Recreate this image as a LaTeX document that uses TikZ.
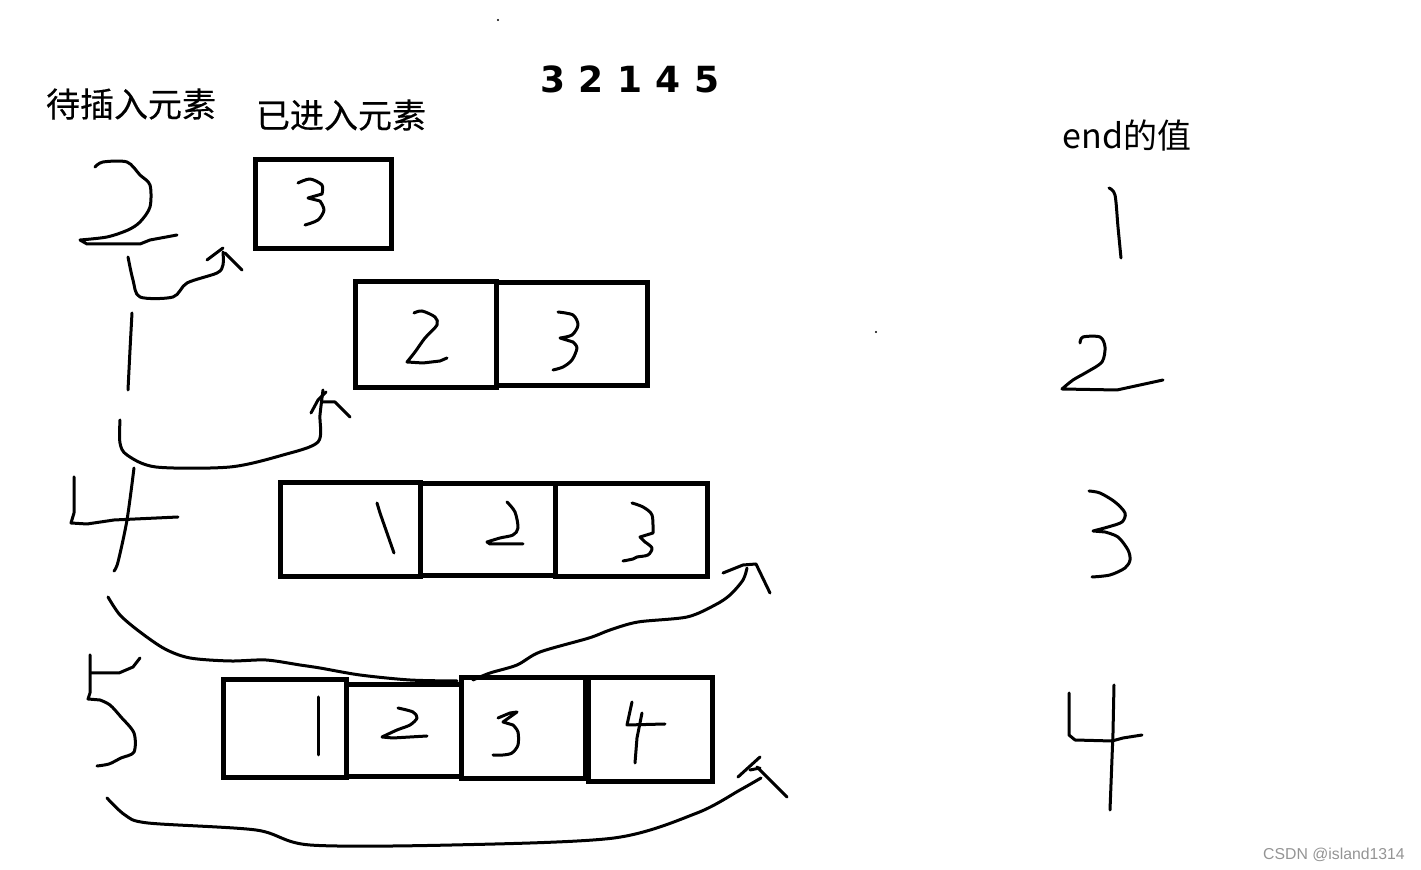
\documentclass[tikz,border=0pt]{standalone}
\usepackage{fontspec}
\newfontfamily\cjk{Noto Sans CJK SC}[FakeBold=0.3]
\newfontfamily\cjkr{Noto Sans CJK SC}
\newfontfamily\numfont{DejaVu Sans}
\newfontfamily\wmfont{Liberation Sans}
\begin{document}
\begin{tikzpicture}[x=0.5pt,y=-0.5pt,
  hand/.style={line width=1.5pt, line cap=round, line join=round},
  cell/.style={draw, line width=2.5pt, inner sep=0pt, outer sep=0pt},
  title/.style={font=\cjk\fontsize{17pt}{20pt}\selectfont, inner sep=0pt},
  titler/.style={font=\cjkr\fontsize{17pt}{20pt}\selectfont, inner sep=0pt},
  seq/.style={font=\numfont\bfseries\fontsize{18pt}{22pt}\selectfont, inner sep=0pt},
  wmark/.style={font=\wmfont\fontsize{7.9pt}{9pt}\selectfont, text=black!42, inner sep=0pt}]
\useasboundingbox (0,0) rectangle (1421,870);

% ---------- texts ----------
\node[title] (t1) at (131,104) {待插入元素};
\node[title] (t2) at (341,115) {已进入元素};
\node[titler] (t3) at (1127,136) {end的值};
\node[seq] (s) at (630,79) {\makebox[19.25pt]{3}\makebox[19.25pt]{2}\makebox[19.25pt]{1}\makebox[19.25pt]{4}\makebox[19.25pt]{5}};
\node[wmark] (wm) at (1334,855) {CSDN @island1314};

% ---------- boxes ----------
\node[cell, minimum width=68pt, minimum height=44.5pt] (b11) at (323,204.5) {};
\node[cell, minimum width=70.5pt, minimum height=53pt] (b21) at (425.5,335) {};
\node[cell, minimum width=75.5pt, minimum height=51.5pt] (b22) at (571.5,334.5) {};
\node[cell, minimum width=70pt, minimum height=47pt] (b31) at (350,530) {};
\node[cell, minimum width=67.5pt, minimum height=46pt] (b32) at (487.5,530) {};
\node[cell, minimum width=76pt, minimum height=46.5pt] (b33) at (631,530.5) {};
\node[cell, minimum width=61.5pt, minimum height=49pt] (b41) at (284.5,729) {};
\node[cell, minimum width=57.5pt, minimum height=46pt] (b42) at (403.5,731) {};
\node[cell, minimum width=62pt, minimum height=50.5pt] (b43) at (523,728.5) {};
\node[cell, minimum width=62pt, minimum height=52pt] (b44) at (650,730) {};

% ---------- handwritten digits in boxes ----------
% row 1: 3
\draw[hand] plot[smooth, tension=0.5] coordinates {(298,183) (310,179) (322,185) (322,194)} -- (308,198) -- (320,201) plot[smooth, tension=0.5] coordinates {(320,201) (324,210) (318,220) (305,225)};
% row 2
\draw[hand] plot[smooth, tension=0.5] coordinates {(414,313) (422,311) (435,317) (437,325) (425,338) (415,352) (407,362)} -- (423,363) -- (440,361) -- (447,358);
\draw[hand] plot[smooth, tension=0.5] coordinates {(558,312) (573,315) (578,325) (572,335) (560,338)} -- plot[smooth, tension=0.5] coordinates {(573,342) (577,348) (572,360) (563,367) (553,370)};
% row 3
\draw[hand] (377,503) -- (380,513) -- (394,553);
\draw[hand] plot[smooth, tension=0.5] coordinates {(507,502) (515,512) (518,528) (513,535) (500,538) (487,542)} -- (490,544) -- (523,544);
\draw[hand] plot[smooth, tension=0.5] coordinates {(632,503) (643,507) (652,515) (653,533)} -- (640,537) -- plot[smooth, tension=0.5] coordinates {(645,542) (652,548) (648,555) (637,557) (633,559) (623,561)};
% row 4
\draw[hand] (318,697) -- (318,755);
\draw[hand] plot[smooth, tension=0.5] coordinates {(398,708) (413,712) (417,718) (410,725) (397,730) (382,737)} -- (393,738) -- (427,736);
\draw[hand] (498,718) -- (510,713) -- (517,712) -- (503,722) -- plot[smooth, tension=0.5] coordinates {(513,725) (518,732) (518,745) (512,753) (503,755) (493,755)};
\draw[hand] (632,702) -- (627,725) -- (665,724);
\draw[hand] (642,713) -- (637,738) -- (635,763);

% ---------- left column digits ----------
\draw[hand] plot[smooth, tension=0.5] coordinates {(95,167) (103,162) (127,162) (140,175) (150,185) (150,207) (140,222) (128,230) (107,237) (80,240)} -- (87,244) -- (140,244) -- (150,240) -- (177,235);
\draw[hand] plot[smooth, tension=0.5] coordinates {(132,313) (130,350) (128,390)};
\draw[hand] (74,477) -- (74,513) -- (71,523) -- (87,524) -- (114,520) -- (178,517);
\draw[hand] plot[smooth, tension=0.5] coordinates {(134,468) (127,520) (118,562) (114,571)};
\draw[hand] (90,655) -- (90,693) -- (88,699) -- plot[smooth, tension=0.5] coordinates {(100,700) (110,705) (121,717) (134,733) (134,752) (121,758) (109,764) (97,766)};
\draw[hand] (91,673) -- (119,673) -- (133,667) -- (140,658);

% ---------- right column digits ----------
\draw[hand] plot[smooth, tension=0.5] coordinates {(1109,188) (1115,195) (1118,227) (1121,258)};
\draw[hand] plot[smooth, tension=0.5] coordinates {(1080,343) (1083,337) (1100,337) (1105,347) (1102,362) (1087,372) (1073,380) (1062,389)} -- (1117,390) -- (1140,385) -- (1163,380);
\draw[hand] plot[smooth, tension=0.5] coordinates {(1089,491) (1100,493) (1115,502) (1125,513) (1122,522) (1108,527) (1093,531)} -- plot[smooth, tension=0.5] coordinates {(1105,532) (1118,537) (1128,550) (1130,560) (1125,568) (1110,575) (1092,577)};
\draw[hand] (1069,693) -- (1069,735) -- (1075,740) -- (1112,741) -- (1123,738) -- (1142,735);
\draw[hand] (1114,685) -- (1113,733) -- (1110,810);

% ---------- hand-drawn arrows ----------
\draw[hand] plot[smooth, tension=0.5] coordinates {(128,257) (133,280) (140,297) (173,297) (187,283) (217,273) (223,265) (223,252)};
\draw[hand] (207,260) -- (223,248);
\draw[hand] (225,253) -- (242,270);

\draw[hand] plot[smooth, tension=0.5] coordinates {(120,420) (120,443) (127,455) (156,467) (230,467) (283,455) (318,442) (320,415) (323,390)};
\draw[hand] (311,413) -- (318,400) -- (326,392);
\draw[hand] (323,402) -- (335,402) -- (350,417);

\draw[hand] plot[smooth, tension=0.5] coordinates {(108,597) (120,615) (140,632) (165,649) (190,658) (230,661) (266,660) (300,665) (320,668) (360,675) (410,680) (457,681)};
\draw[hand] plot[smooth, tension=0.5] coordinates {(473,680) (490,673) (517,665) (540,652) (589,638) (610,630) (638,622) (687,617) (715,605) (730,595) (743,580) (747,568)};
\draw[hand] (723,573) -- (743,565) -- (756,564) -- (770,593);

\draw[hand] plot[smooth, tension=0.5] coordinates {(107,798) (125,815) (148,823) (256,830) (310,845) (452,845) (614,838) (697,813) (740,790) (761,778)};
\draw[hand] (738,777) -- (760,757);
\draw[hand] (750,770) -- (760,768);
\draw[hand] (757,767) -- (787,797);

% specks
\fill (498,20) circle (1.2);
\fill (876,332) circle (1.2);
\end{tikzpicture}
\end{document}
